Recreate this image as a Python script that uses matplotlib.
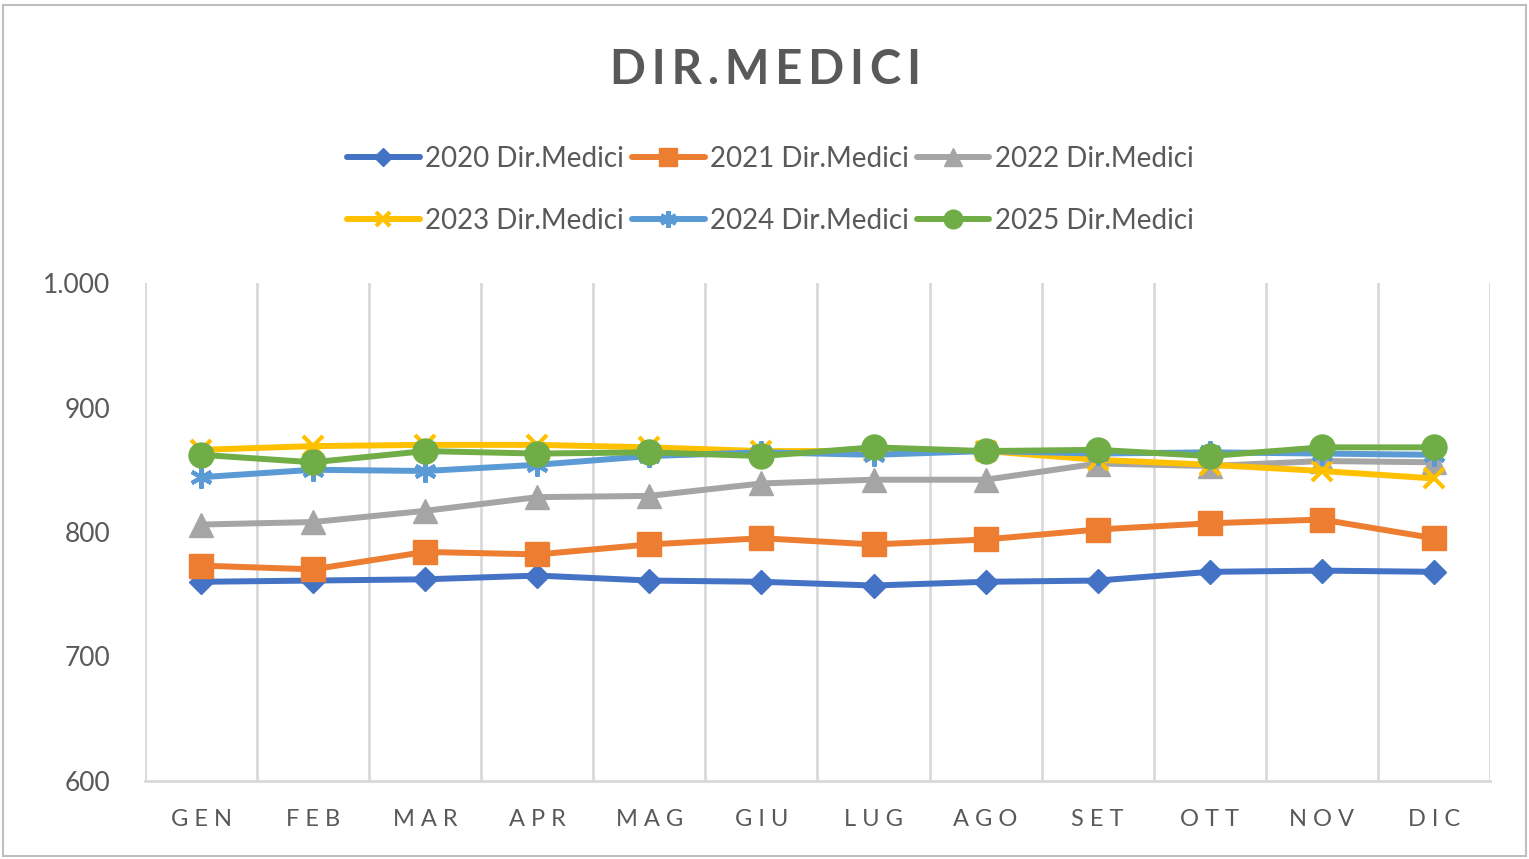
import matplotlib
matplotlib.use("Agg")
import matplotlib.pyplot as plt
from matplotlib.ticker import FuncFormatter, FixedLocator
from matplotlib.patches import Rectangle

months = ["GEN", "FEB", "MAR", "APR", "MAG", "GIU", "LUG", "AGO", "SET", "OTT", "NOV", "DIC"]
s2020 = [760, 761, 762, 765, 761, 760, 757, 760, 761, 768, 769, 768]
s2021 = [773, 770, 784, 782, 790, 795, 790, 794, 802, 807, 810, 795]
s2022 = [806, 808, 817, 828, 829, 839, 842, 842, 855, 853, 857, 856]
s2023 = [866, 869, 870, 870, 868, 865, 865, 865, 858, 854, 849, 843]
s2024 = [844, 850, 849, 854, 861, 864, 862, 865, 863, 864, 863, 862]
s2025 = [862, 856, 865, 863, 864, 861, 868, 865, 866, 861, 868, 868]
labels = ["2020 Dir.Medici", "2021 Dir.Medici", "2022 Dir.Medici",
          "2023 Dir.Medici", "2024 Dir.Medici", "2025 Dir.Medici"]
title = "DIR.MEDICI"

plt.rcParams['font.family'] = ['Lato', 'DejaVu Sans']
txt = '#595959'

fig = plt.figure(figsize=(15.29, 8.59), dpi=100)
ax = fig.add_axes([145/1529, 1-781/859, (1490-145)/1529, (781-283)/859])

x = list(range(len(months)))
styles = [
    (s2020, '#4472C4', dict(marker='D', markersize=12)),
    (s2021, '#ED7D31', dict(marker='s', markersize=17)),
    (s2022, '#A5A5A5', dict(marker='^', markersize=17)),
    (s2023, '#FFC000', dict(marker='x', markersize=14, markeredgewidth=3)),
    (s2024, '#5B9BD5', dict(marker=(6, 2, 0), markersize=16, markeredgewidth=3)),
    (s2025, '#70AD47', dict(marker='o', markersize=18)),
]
handles = []
for (vals, col, kw), lab in zip(styles, labels):
    h, = ax.plot(x, vals, color=col, lw=4.3, label=lab, solid_capstyle='round',
                 markerfacecolor=col, markeredgecolor=col, **kw)
    handles.append(h)

ax.set_xlim(-0.5, len(months) - 0.5)
ax.set_ylim(600, 1000)
ax.set_yticks([600, 700, 800, 900, 1000])
ax.yaxis.set_major_formatter(FuncFormatter(lambda v, p: f"{int(v):,}".replace(",", ".")))
ax.set_xticks(x)
ax.set_xticklabels([" ".join(m) for m in months])
ax.xaxis.set_minor_locator(FixedLocator([i - 0.5 for i in range(len(months) + 1)]))
ax.grid(True, which='minor', axis='x', color='#D9D9D9', lw=2)
ax.tick_params(axis='both', which='both', length=0, colors=txt)
ax.tick_params(axis='x', labelsize=17, pad=20)
ax.tick_params(axis='y', labelsize=19, pad=25)
for sp in ['top', 'right', 'left']:
    ax.spines[sp].set_visible(False)
ax.spines['bottom'].set_color('#D9D9D9')
ax.spines['bottom'].set_linewidth(2)
ax.set_axisbelow(True)

fig.text(0.501, 1-70/859, "\u2009".join(title), ha='center', va='center', fontsize=34,
         fontweight='bold', color=txt)

# row-major ordering for a 3-column legend
order = [0, 3, 1, 4, 2, 5]
leg = fig.legend([handles[i] for i in order], [labels[i] for i in order],
                 loc='center', bbox_to_anchor=(0.504, 1-190/859), ncol=3,
                 frameon=False, fontsize=20, handlelength=2.6, columnspacing=0.3,
                 handletextpad=0.2, labelspacing=1.3, markerscale=0.75)
for t in leg.get_texts():
    t.set_color(txt)

fig.patches.append(Rectangle((3/1529, 3/859), 1-6/1529, 1-8/859, transform=fig.transFigure,
                             fill=False, edgecolor='#BFBFBF', lw=1.5))

fig.savefig('out.png', dpi=100)
